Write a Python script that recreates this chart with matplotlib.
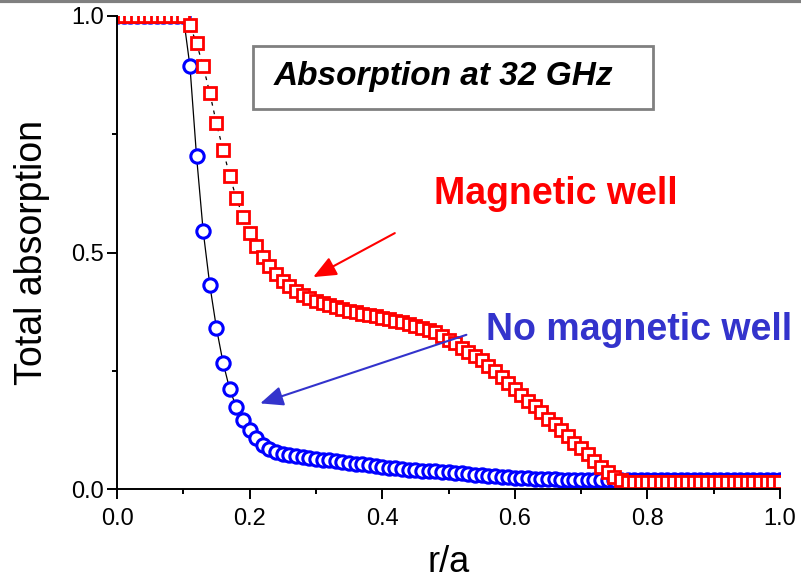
import numpy as np
import matplotlib
matplotlib.use("Agg")
import matplotlib.pyplot as plt
from matplotlib.patches import Rectangle
from matplotlib.lines import Line2D
from matplotlib.ticker import MultipleLocator

plt.rcParams['font.family'] = ['Liberation Sans', 'DejaVu Sans']

# normalised radius, one point every 0.01
r_a = np.round(np.arange(0, 101) * 0.01, 2)

# total absorption without the magnetic well
no_well = [1.0] * 11 + [
    0.894, 0.703, 0.545, 0.431, 0.340, 0.267, 0.211, 0.173, 0.146, 0.125,   # 0.11-0.20
    0.107, 0.093, 0.084, 0.078, 0.074, 0.071, 0.069, 0.067, 0.065, 0.063,   # 0.21-0.30
    0.062, 0.061, 0.059, 0.057, 0.055, 0.053, 0.052, 0.050, 0.048, 0.046,   # 0.31-0.40
    0.045, 0.044, 0.043, 0.041, 0.040, 0.039, 0.038, 0.037, 0.036, 0.035,   # 0.41-0.50
    0.034, 0.033, 0.031, 0.030, 0.029, 0.028, 0.027, 0.026, 0.025, 0.024,   # 0.51-0.60
    0.023, 0.023, 0.022, 0.022, 0.021, 0.021, 0.020, 0.020, 0.019, 0.019,   # 0.61-0.70
] + [0.018] * 30

# total absorption with the magnetic well
mag_well = [1.0] * 11 + [
    0.980, 0.942, 0.894, 0.837, 0.773, 0.717, 0.662, 0.615, 0.576, 0.542,   # 0.11-0.20
    0.514, 0.491, 0.471, 0.455, 0.440, 0.429, 0.419, 0.411, 0.404, 0.398,   # 0.21-0.30
    0.393, 0.388, 0.384, 0.380, 0.377, 0.374, 0.371, 0.368, 0.365, 0.362,   # 0.31-0.40
    0.359, 0.356, 0.353, 0.349, 0.345, 0.341, 0.336, 0.331, 0.324, 0.316,   # 0.41-0.50
    0.308, 0.298, 0.290, 0.282, 0.272, 0.261, 0.249, 0.237, 0.224, 0.212,   # 0.51-0.60
    0.199, 0.187, 0.175, 0.162, 0.149, 0.137, 0.124, 0.111, 0.098, 0.086,   # 0.61-0.70
    0.073, 0.060, 0.047, 0.036, 0.026, 0.019, 0.015,                        # 0.71-0.77
] + [0.014] * 23

fig = plt.figure(figsize=(8.01, 5.81), dpi=100)
ax = fig.add_axes([117 / 801, 1 - 489 / 581, 663 / 801, 473 / 581])

ax.plot(r_a, no_well, color='black', lw=0.9, marker='o', ms=9.6,
        mfc='white', mec='#0000ff', mew=2.2)
ax.plot(r_a, mag_well, color='black', lw=0.9, ls=(0, (3, 4)), marker='s', ms=9.2,
        mfc='white', mec='#ff0000', mew=2.0)

ax.set_xlim(0, 1.0)
ax.set_ylim(0, 1.0)
ax.xaxis.set_major_locator(MultipleLocator(0.2))
ax.xaxis.set_minor_locator(MultipleLocator(0.1))
ax.yaxis.set_major_locator(MultipleLocator(0.5))
ax.yaxis.set_minor_locator(MultipleLocator(0.25))
ax.tick_params(which='major', direction='out', length=7.5, width=1.4, labelsize=17)
ax.tick_params(which='minor', direction='out', length=3.8, width=1.4)
ax.tick_params(axis='x', pad=6)
ax.tick_params(axis='y', pad=2)
for side in ['top', 'right']:
    ax.spines[side].set_visible(False)
for side in ['left', 'bottom']:
    ax.spines[side].set_linewidth(1.4)

ax.set_xlabel('r/a', fontsize=26)
ax.set_ylabel('Total absorption', fontsize=27)
ax.xaxis.set_label_coords(0.5, -0.118)
ax.yaxis.set_label_coords(-0.101, 0.5)

# title box
ax.add_patch(Rectangle((0.205, 0.803), 0.603, 0.134, transform=ax.transAxes,
                       fill=True, facecolor='white', edgecolor='#808080', lw=2, zorder=5))
ax.text(0.4925, 0.872, 'Absorption at 32 GHz', transform=ax.transAxes, fontsize=24,
        fontweight='bold', style='italic', ha='center', va='center', zorder=6)

# curve labels with arrows
ax.text(0.662, 0.624, 'Magnetic well', color='#ff0000', fontsize=27,
        fontweight='bold', ha='center', va='center')
ax.text(0.787, 0.336, 'No magnetic well', color='#3333cc', fontsize=27,
        fontweight='bold', ha='center', va='center')
ax.annotate('', xy=(0.296, 0.448), xytext=(0.419, 0.541),
            arrowprops=dict(arrowstyle='-|>,head_length=1.4,head_width=0.6',
                            color='#ff0000', lw=1.5, shrinkA=0, shrinkB=0))
ax.annotate('', xy=(0.216, 0.181), xytext=(0.527, 0.326),
            arrowprops=dict(arrowstyle='-|>,head_length=1.4,head_width=0.6',
                            color='#3333cc', lw=1.5, shrinkA=0, shrinkB=0))

# thin grey frame line along the top edge
fig.add_artist(Line2D([0, 1], [0.998, 0.998], transform=fig.transFigure,
                      color='#808080', lw=3))

fig.savefig('out.png', dpi=100)
